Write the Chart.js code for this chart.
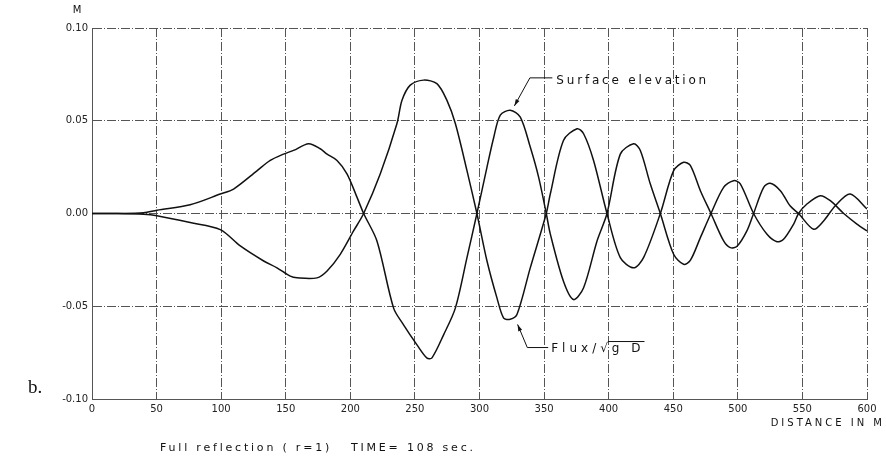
<!DOCTYPE html>
<html lang="en">
<head>
    <meta charset="UTF-8">
    <title>Full reflection - TIME = 108 sec</title>
    <style>
        body { margin: 0; background: #fff; }
        canvas { display: block; }
    </style>
</head>
<body>
    <canvas id="grafico" width="886" height="460"></canvas>

    <script src="https://cdn.jsdelivr.net/npm/chart.js"></script>
    <script>
        // distancias (m) e elevacao da superficie (m)
        const distSurface = [0, 20, 40, 50.3, 76, 99.3, 109.6, 127.7, 138, 148.3, 156, 167.7, 176.7, 182, 189.7, 197.4, 205.2, 210.3,
            220.6, 233.5, 241.2, 251.6, 259.4, 263.2, 272.2, 281.3, 290.3, 298,
            305.8, 311, 316.1, 323.8, 331.6, 339.3, 345.8, 351.7,
            354.8, 365, 372.8, 380.6, 391, 398.7,
            409, 419.3, 424.5, 432.2, 440,
            450.3, 458, 463.2, 471, 479.2,
            489, 496.7, 501.9, 512.2,
            522.6, 530.3, 535.4, 543.2, 547,
            553.5, 563.8, 571.6, 582, 592.2, 600];
        const surface = [0, 0, 0.0004, 0.0018, 0.0047, 0.0105, 0.0132, 0.023, 0.0286, 0.032, 0.034, 0.0376, 0.0349, 0.032, 0.0286, 0.0214, 0.0087, 0,
            -0.0148, -0.051, -0.060, -0.0708, -0.078, -0.0778, -0.0654, -0.051, -0.0238, 0,
            0.025, 0.041, 0.053, 0.0557, 0.052, 0.0358, 0.0195, 0,
            -0.011, -0.0365, -0.0464, -0.040, -0.0148, 0,
            0.032, 0.0376, 0.034, 0.016, 0,
            -0.022, -0.0274, -0.0253, -0.013, 0,
            0.0141, 0.0177, 0.016, 0,
            -0.0112, -0.0152, -0.0139, -0.0057, 0,
            0.0051, 0.0096, 0.0069, 0, -0.0057, -0.0094];

        // distancias (m) e fluxo / sqrt(gD)
        const distFlux = [0, 20, 40, 50.3, 76, 99.3, 114.8, 132.9, 143.2, 153.5, 158.7, 174.2, 182, 192.2, 202.5, 210.3,
            223.2, 236.1, 240, 246.4, 256.7, 267, 274.8, 281.3, 290.3, 298,
            305.8, 313.5, 318.7, 323.8, 329, 339.3, 351.7,
            354.8, 365, 375.5, 380.6, 388.3, 398.7,
            409, 419.3, 427, 440,
            450.3, 458, 463.2, 471, 479.2,
            489, 494.2, 499.4, 507, 512.2,
            520, 525.1, 532.9, 540.6, 547,
            558.7, 566.4, 575.5, 587, 600];
        const flux = [0, 0, -0.0004, -0.0012, -0.0049, -0.0087, -0.0175, -0.0256, -0.0293, -0.0338, -0.0347, -0.0347, -0.031, -0.022, -0.0094, 0,
            0.0214, 0.0485, 0.061, 0.0692, 0.0719, 0.070, 0.061, 0.0485, 0.0231, 0,
            -0.0256, -0.0455, -0.0564, -0.057, -0.0545, -0.0293, 0,
            0.0105, 0.0394, 0.0457, 0.043, 0.0286, 0,
            -0.0238, -0.0293, -0.0238, 0,
            0.0231, 0.0276, 0.0259, 0.0123, 0,
            -0.0148, -0.0184, -0.0177, -0.0094, 0,
            0.0141, 0.0163, 0.0123, 0.004, 0,
            -0.0085, -0.004, 0.0042, 0.0105, 0.0024];

        const xTicks = [0, 50, 100, 150, 200, 250, 300, 350, 400, 450, 500, 550, 600];
        const yTicks = [-0.10, -0.05, 0.00, 0.05, 0.10];

        const pontos = (xs, ys) => xs.map((v, i) => ({ x: v, y: ys[i] }));

        const fonte = "'DejaVu Sans', sans-serif";
        const tracoGrade = [9, 2, 1, 2];

        // linha de chamada com ponta de seta
        function seta(ctx, x0, y0, x1, y1, x2, y2) {
            ctx.beginPath();
            ctx.moveTo(x0, y0);
            ctx.lineTo(x1, y1);
            ctx.lineTo(x2, y2);
            ctx.stroke();
            const ang = Math.atan2(y2 - y1, x2 - x1);
            ctx.beginPath();
            ctx.moveTo(x2, y2);
            ctx.lineTo(x2 - 7 * Math.cos(ang - 0.3), y2 - 7 * Math.sin(ang - 0.3));
            ctx.lineTo(x2 - 7 * Math.cos(ang + 0.3), y2 - 7 * Math.sin(ang + 0.3));
            ctx.closePath();
            ctx.fill();
        }

        const anotacoes = {
            id: 'anotacoes',
            afterDraw(chart) {
                const { ctx, scales: { x, y } } = chart;
                ctx.save();
                ctx.fillStyle = '#111';
                ctx.strokeStyle = '#111';
                ctx.lineWidth = 1;
                ctx.textBaseline = 'middle';
                ctx.textAlign = 'left';

                // Surface elevation
                const sx = x.getPixelForValue(359.5), sy = y.getPixelForValue(0.0715);
                seta(ctx, sx - 4, sy - 3, x.getPixelForValue(339), sy - 3,
                    x.getPixelForValue(327), y.getPixelForValue(0.058));
                ctx.font = '12px ' + fonte;
                ctx.letterSpacing = '2.8px';
                ctx.fillText('Surface elevation', sx, sy);

                // Flux / sqrt(g D)
                const fx = x.getPixelForValue(355.5), fy = y.getPixelForValue(-0.0728);
                seta(ctx, fx - 3, fy - 1, x.getPixelForValue(337), fy - 1,
                    x.getPixelForValue(329.5), y.getPixelForValue(-0.0598));
                ctx.letterSpacing = '4px';
                ctx.fillText('Flux/\u221Ag D', fx, fy);
                const wa = ctx.measureText('Flux/\u221A').width;
                const wb = ctx.measureText('Flux/\u221Ag D').width;
                ctx.beginPath();
                ctx.moveTo(fx + wa - 4, fy - 7);
                ctx.lineTo(fx + wb, fy - 7);
                ctx.stroke();

                // unidade do eixo y
                ctx.letterSpacing = '0px';
                ctx.font = '10px ' + fonte;
                ctx.textAlign = 'center';
                ctx.fillText('M', 77, 10);

                // titulo do eixo x
                ctx.letterSpacing = '3px';
                ctx.textAlign = 'right';
                ctx.fillText('DISTANCE IN M', 885, 423);

                // legenda inferior
                ctx.font = '11px ' + fonte;
                ctx.letterSpacing = '2.8px';
                ctx.textAlign = 'left';
                ctx.fillText('Full reflection ( r=1)   TIME= 108 sec.', 160, 448);

                // letra do painel
                ctx.letterSpacing = '0px';
                ctx.font = "19px 'Liberation Serif', serif";
                ctx.fillText('b.', 28, 388);
                ctx.restore();
            }
        };

        const ctx = document.getElementById('grafico').getContext('2d');
        const grafico = new Chart(ctx, {
            type: 'line',
            data: {
                datasets: [
                    {
                        label: 'Surface elevation',
                        data: pontos(distSurface, surface),
                        borderColor: '#111',
                        borderWidth: 1.5,
                        pointRadius: 0,
                        tension: 0.3
                    },
                    {
                        label: 'Flux/\u221Ag D',
                        data: pontos(distFlux, flux),
                        borderColor: '#111',
                        borderWidth: 1.5,
                        pointRadius: 0,
                        tension: 0.3
                    }
                ]
            },
            options: {
                responsive: false,
                animation: false,
                layout: { padding: { left: 0, right: 19, top: 28, bottom: 0 } },
                plugins: {
                    legend: { display: false },
                    tooltip: { enabled: false }
                },
                scales: {
                    x: {
                        type: 'linear',
                        min: 0,
                        max: 600,
                        afterFit: s => { s.height = 61; },
                        afterBuildTicks: s => { s.ticks = xTicks.map(v => ({ value: v })); },
                        grid: { color: '#555', lineWidth: 1, drawTicks: false },
                        border: { display: true, color: '#555', dash: tracoGrade },
                        ticks: { color: '#222', padding: 4, font: { family: fonte, size: 10 } }
                    },
                    y: {
                        min: -0.1,
                        max: 0.1,
                        afterFit: s => { s.width = 92; },
                        afterBuildTicks: s => { s.ticks = yTicks.map(v => ({ value: v })); },
                        grid: { color: '#555', lineWidth: 1, drawTicks: false },
                        border: { display: true, color: '#555', dash: tracoGrade },
                        ticks: {
                            color: '#222',
                            padding: 4,
                            font: { family: fonte, size: 10 },
                            callback: v => v.toFixed(2)
                        }
                    }
                }
            },
            plugins: [anotacoes]
        });
    </script>
</body>
</html>
